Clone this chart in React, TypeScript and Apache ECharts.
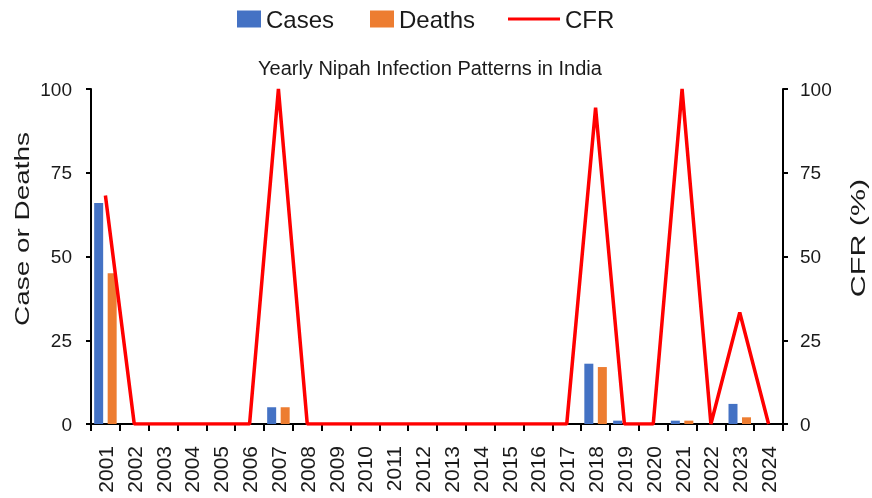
import React, { useEffect, useRef } from "react";
import * as echarts from "echarts";

const years = [
  "2001", "2002", "2003", "2004", "2005", "2006", "2007", "2008", "2009", "2010", "2011", "2012",
  "2013", "2014", "2015", "2016", "2017", "2018", "2019", "2020", "2021", "2022", "2023", "2024",
];
const cases = [66, 0, 0, 0, 0, 0, 5, 0, 0, 0, 0, 0, 0, 0, 0, 0, 0, 18, 1, 0, 1, 0, 6, 0];
const deaths = [45, 0, 0, 0, 0, 0, 5, 0, 0, 0, 0, 0, 0, 0, 0, 0, 0, 17, 0, 0, 1, 0, 2, 0];
const cfr = [68.2, 0, 0, 0, 0, 0, 100, 0, 0, 0, 0, 0, 0, 0, 0, 0, 0, 94.4, 0, 0, 100, 0, 33.3, 0];
const yTicks = [0, 25, 50, 75, 100];
const leftTitle = "Case or Deaths";
const rightTitle = "CFR (%)";

const FONT = "Liberation Sans, Arial, sans-serif";
const TXT = "#1a1a1a";

export default function App() {
  const ref = useRef<HTMLDivElement>(null);
  useEffect(() => {
    if (!ref.current) return;
    const chart = echarts.init(ref.current, null, { renderer: "svg" });
    const axisCommon = {
      type: "value",
      min: yTicks[0],
      max: yTicks[yTicks.length - 1],
      interval: 25,
      axisLine: { show: true, lineStyle: { color: "#000", width: 2 } },
      axisTick: { show: true, length: 5, lineStyle: { color: "#000", width: 2 } },
      axisLabel: { fontSize: 19, color: TXT, fontFamily: FONT, margin: 17 },
      splitLine: { show: false },
    };
    chart.setOption({
      animation: false,
      textStyle: { fontFamily: FONT },
      title: {
        text: "Yearly Nipah Infection Patterns in India",
        left: 258,
        top: 58,
        padding: 0,
        textStyle: { fontSize: 20, fontWeight: "normal", color: TXT, fontFamily: FONT },
      },
      legend: [
        {
          data: ["Cases", "Deaths"],
          left: 237,
          top: 7,
          padding: 0,
          itemWidth: 24,
          itemHeight: 17,
          itemGap: 36,
          icon: "rect",
          textStyle: { fontSize: 24, color: TXT, fontFamily: FONT },
        },
        {
          data: [{ name: "CFR", icon: "rect" }],
          left: 508,
          top: 7,
          padding: 0,
          itemWidth: 52,
          itemHeight: 3,
          textStyle: { fontSize: 24, color: TXT, fontFamily: FONT },
        },
      ],
      graphic: [
        {
          type: "text",
          x: 22,
          y: 229,
          rotation: Math.PI / 2,
          scaleX: 1.33,
          style: {
            text: leftTitle,
            font: `21px ${FONT}`,
            fill: TXT,
            align: "center",
            verticalAlign: "middle",
          },
        },
        {
          type: "text",
          x: 858,
          y: 238,
          rotation: Math.PI / 2,
          scaleX: 1.45,
          style: {
            text: rightTitle,
            font: `21px ${FONT}`,
            fill: TXT,
            align: "center",
            verticalAlign: "middle",
          },
        },
      ],
      grid: { left: 91, right: 89, top: 89, bottom: 74, containLabel: false, outerBoundsMode: "none" },
      xAxis: {
        type: "category",
        data: years,
        boundaryGap: true,
        axisLine: { lineStyle: { color: "#000", width: 2 } },
        axisTick: { show: true, length: 7, lineStyle: { color: "#000", width: 2 } },
        axisLabel: { rotate: 90, fontSize: 21, color: TXT, fontFamily: FONT, margin: 22, interval: 0 },
      },
      yAxis: [
        { ...axisCommon, position: "left", axisLabel: { ...axisCommon.axisLabel, margin: 19 } },
        { ...axisCommon, position: "right" },
      ],
      series: [
        {
          name: "Cases",
          type: "bar",
          data: cases,
          barWidth: 9,
          barGap: "50%",
          itemStyle: { color: "#4472C4" },
        },
        {
          name: "Deaths",
          type: "bar",
          data: deaths,
          barWidth: 9,
          barGap: "50%",
          itemStyle: { color: "#ED7D31" },
        },
        {
          name: "CFR",
          type: "line",
          yAxisIndex: 1,
          data: cfr,
          symbol: "none",
          lineStyle: { color: "#FF0000", width: 3.5 },
          itemStyle: { color: "#FF0000" },
        },
      ],
    });
    return () => chart.dispose();
  }, []);
  return <div ref={ref} style={{ position: "fixed", left: 0, top: 0, width: 872, height: 498 }} />;
}
